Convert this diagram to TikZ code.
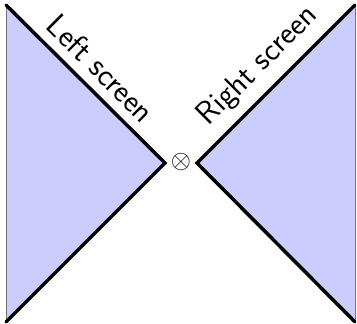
\RequirePackage{fix-cm}
\documentclass[tikz,border=0pt]{standalone}
\begin{document}
\begin{tikzpicture}[x=1pt,y=1pt,
  screenfill/.style={fill=blue!20},
  screenline/.style={line width=3.5pt,line cap=round,line join=miter},
  sideline/.style={line width=1pt,draw=black!55},
  lbl/.style={font=\fontsize{32}{36}\selectfont\sffamily,inner sep=9pt}]
\useasboundingbox (0,0) rectangle (357,324);
\coordinate (ltop) at (6,319);
\coordinate (lapex) at (165,161);
\coordinate (lbot) at (6,2);
\coordinate (rtop) at (355,319);
\coordinate (rapex) at (197,161);
\coordinate (rbot) at (355,2);
\fill[screenfill] (ltop) -- (lapex) -- (lbot) -- cycle;
\fill[screenfill] (rtop) -- (rapex) -- (rbot) -- cycle;
\draw[sideline] (ltop) -- (lbot);
\draw[sideline] (rtop) -- (rbot);
\draw[screenline] (ltop) -- node[lbl,midway,above,sloped] (ltxt) {Left screen} (lapex) -- (lbot);
\draw[screenline] (rbot) -- (rapex) -- node[lbl,midway,above,sloped] (rtxt) {Right screen} (rtop);
\node[scale=2.6,inner sep=0pt] (obs) at (181,162) {$\otimes$};
\end{tikzpicture}
\end{document}
